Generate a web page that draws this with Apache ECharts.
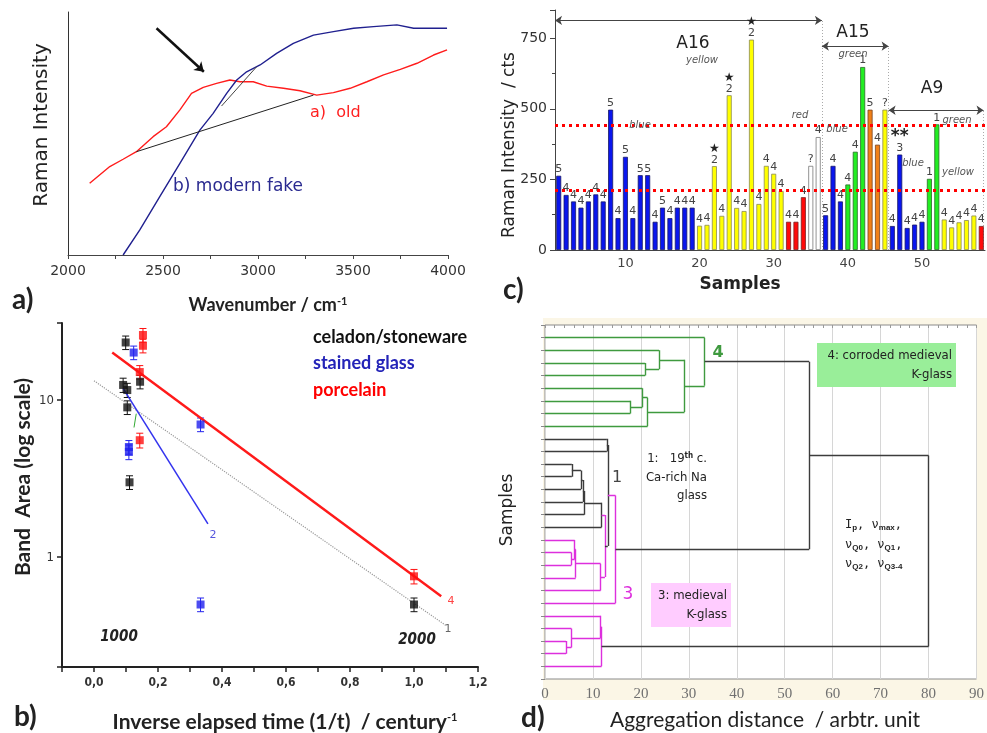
<!DOCTYPE html>
<html>
<head>
<meta charset="utf-8">
<script src="https://cdn.jsdelivr.net/npm/echarts@6/dist/echarts.min.js"></script>
<style>
html,body{margin:0;padding:0;background:#fff;}
#chart{width:987px;height:733px;}
</style>
</head>
<body>
<div id="chart"></div>
<script>
// ---- a) Raman spectra, old vs modern fake
var aOldX = [2114,2220,2290,2360,2448,2518,2589,2650,2712,2782,2852,2905,2975,3046,3134,3221,3309,3397,3485,3573,3661,3749,3837,3924,3995];
var aOldY = [29.5,36.4,39.4,42.5,48.7,52.8,59.7,66.5,69.0,70.6,72.0,71.3,71.3,69.5,68.6,67.6,65.8,66.8,68.6,71.3,74.1,76.4,78.9,82.3,84.4];
var aFakeX = [2290,2378,2483,2589,2694,2764,2835,2888,2940,3011,3098,3186,3292,3397,3503,3608,3731,3819,3995];
var aFakeY = [0,10.3,24,37.7,51.4,58.3,66.5,72,75.4,78.2,83,87.1,90.5,91.9,93.3,94,94.7,93.3,93.3];
var aBaseLong = [[2360,42.5],[3292,65.8]];
var aBaseShort = [[2808,61.3],[2993,77.5]];
var aArrow = [[2466,93.3],[2715,75.4]];

// ---- b) band area vs inverse elapsed time
var bStoneX = [0.099,0.091,0.104,0.104,0.111,0.144,1.0];
var bStoneY = [23.3,12.5,11.6,9.0,3.0,13.1,0.50];
var bStoneErr = [2.3,1.3,1.2,0.9,0.3,1.3,0.05];
var bGlassX = [0.124,0.109,0.109,0.333,0.333];
var bGlassY = [20.1,5.03,4.68,7.0,0.50];
var bGlassErr = [2.0,0.5,0.5,0.7,0.05];
var bPorcX = [0.153,0.153,0.143,0.143,1.0];
var bPorcY = [26.0,22.2,15.1,5.56,0.756];
var bPorcErr = [2.6,2.2,1.5,0.6,0.08];
var bFit4 = [[0.057,20.1],[1.085,0.564]];
var bFit2 = [[0.091,11.9],[0.356,1.63]];
var bFit1 = [[0.0,13.3],[1.101,0.366]];
var bFitGreen = [[0.132,8.2],[0.125,6.7]];

// ---- c) Raman intensity per sample
var cSamples = [];
for (var i = 1; i <= 58; i++) cSamples.push(String(i));
var cValues = [263,195,172,150,172,197,172,497,113,330,113,265,265,100,150,113,150,150,150,
  86,89,297,121,548,149,138,745,163,298,270,209,100,100,187,298,400,
  123,298,172,232,348,648,497,373,497,85,338,78,90,100,252,445,108,80,98,106,122,85];
var cColours = ['b','b','b','b','b','b','b','b','b','b','b','b','b','b','b','b','b','b','b',
  'y','y','y','y','y','y','y','y','y','y','y','y','r','r','r','w','w',
  'b','b','b','g','g','g','o','o','y','b','b','b','b','b','g','g','y','y','y','y','y','r'];
var cClass = ['5','4','4','4','4','4','4','5','4','5','4','5','5','4','5','4','4','4','4',
  '4','4','2','4','2','4','4','2','4','4','4','4','4','4','4','?','4',
  '5','4','4','4','4','1','5','4','?','4','3','4','4','4','1','1','4','4','4','4','4','4'];
var cStars = {22:'★',24:'★',27:'★',47:'**'};
var cThresholds = [443,210];
var cSpans = [[0.5,36.5,813],[36.5,45.5,722],[45.5,58.3,495]];

// ---- d) dendrogram
var dLeaves = 27;
var dNodes = [
  ['A','L3','L4',20.9,'g'],
  ['B','L2','A',23.8,'g'],
  ['C','L6','L7',17.8,'g'],
  ['D','L5','C',20.3,'g'],
  ['E','D','L8',21.4,'g'],
  ['F','B','E',29.1,'g'],
  ['G','L1','F',33.3,'g'],
  ['N1','L11','L12',5.6,'k'],
  ['N2','N1','L13',7.5,'k'],
  ['N3','N2','L14',7.9,'k'],
  ['N4','N3','L15',8.2,'k'],
  ['N5','N4','L16',11.8,'k'],
  ['M1','L18','L19',5.5,'m'],
  ['M2','L17','M1',6.2,'m'],
  ['M2b','M2','L20',6.4,'m'],
  ['M3','M2b','L21',11.6,'m'],
  ['X','N5','M3',12.5,'m'],
  ['N6','L9','L10',12.9,'k'],
  ['N8','N6','X',13.1,'k'],
  ['P','N8','L22',14.7,'m'],
  ['U','G','P',55.1,'k'],
  ['M5','L25','L26',4.4,'m'],
  ['M6','L24','M5',5.5,'m'],
  ['M7','L23','M6',11.6,'m'],
  ['M8','M7','L27',11.8,'m'],
  ['R','U','M8',80,'k']
];
var dColours = {g:'#3f9a3f', k:'#3c3c3c', m:'#dd2fdd'};

var barFill = {b:'#0a16ee', y:'#ffff00', r:'#ff0a0a', w:'#ffffff', g:'#22ee22', o:'#f08018'};
var barEdge = {b:'#1a1a66', y:'#8a8a55', r:'#772222', w:'#777777', g:'#2a6a2a', o:'#774422'};

function zip(xs, ys) { return xs.map(function (x, k) { return [x, ys[k]]; }); }
function errData(xs, ys, es) { return xs.map(function (x, k) { return [x, ys[k] - es[k], ys[k] + es[k]]; }); }

function errItem(params, api) {
  var x = api.value(0);
  var p1 = api.coord([x, api.value(2)]);
  var p2 = api.coord([x, api.value(1)]);
  var st = {stroke: api.visual('color'), lineWidth: 1};
  return {type: 'group', children: [
    {type: 'line', shape: {x1: p1[0], y1: p1[1], x2: p2[0], y2: p2[1]}, style: st},
    {type: 'line', shape: {x1: p1[0] - 3.5, y1: p1[1], x2: p1[0] + 3.5, y2: p1[1]}, style: st},
    {type: 'line', shape: {x1: p2[0] - 3.5, y1: p2[1], x2: p2[0] + 3.5, y2: p2[1]}, style: st}
  ]};
}

// bars
var cBarData = cValues.map(function (v, k) {
  var n = k + 1, star = cStars[n];
  var item = {value: v, itemStyle: {color: barFill[cColours[k]], borderColor: barEdge[cColours[k]], borderWidth: 0.8}};
  if (star) {
    item.label = {formatter: (star === '★' ? '{s|★}' : '{d|**}') + '\n{n|' + cClass[k] + '}'};
  } else {
    item.label = {formatter: '{n|' + cClass[k] + '}'};
  }
  return item;
});

// dendrogram segments
var dPos = {};
for (var j = 1; j <= dLeaves; j++) dPos['L' + j] = {x: 0, y: j};
var dSegs = [];
dNodes.forEach(function (n) {
  var a = dPos[n[1]], b = dPos[n[2]], d = n[3], col = dColours[n[4]];
  dSegs.push({coords: [[a.x, a.y], [d, a.y]], lineStyle: {color: col}});
  dSegs.push({coords: [[b.x, b.y], [d, b.y]], lineStyle: {color: col}});
  dSegs.push({coords: [[d, a.y], [d, b.y]], lineStyle: {color: col}});
  dPos[n[0]] = {x: d, y: (a.y + b.y) / 2};
});

function txt(x, y, text, o) {
  o = o || {};
  var el = {type: 'text', x: x, y: y, rotation: o.rot || 0, z: 100,
    style: {text: text, fill: o.color || '#222', textAlign: o.align || 'center', textVerticalAlign: 'middle',
      fontSize: o.size || 14, fontFamily: o.family || 'DejaVu Sans', fontWeight: o.weight || 'normal',
      fontStyle: o.italic ? 'italic' : 'normal'}};
  if (o.rich) el.style.rich = o.rich;
  return el;
}

var chart = echarts.init(document.getElementById('chart'));
var supRich = {sup: {fontSize: 11, verticalAlign: 'top', lineHeight: 14, fontFamily: 'Lato', fontWeight: 'bold', padding: [0, 0, 8, 0]}};
var subRich = {s: {fontSize: 8, fontWeight: 'bold', verticalAlign: 'bottom', padding: [6, 0, 0, 0]}};

chart.setOption({
  animation: false,
  backgroundColor: '#fff',
  grid: [
    {left: 68, top: 12, width: 380, height: 243},
    {left: 62, top: 323, width: 416, height: 344},
    {left: 555, top: 10, width: 430, height: 240},
    {left: 545, top: 325, width: 434, height: 354, show: true, backgroundColor: '#fff', borderColor: '#8a8a8a', borderWidth: 1}
  ],
  xAxis: [
    {gridIndex: 0, type: 'value', min: 2000, max: 4000, interval: 500,
      axisLine: {lineStyle: {color: '#444'}}, axisTick: {length: 4, lineStyle: {color: '#444'}},
      minorTick: {show: true, splitNumber: 2, length: 4, lineStyle: {color: '#444'}},
      axisLabel: {color: '#333', fontSize: 14, fontFamily: 'DejaVu Sans', margin: 9, formatter: function (v) { return String(v); }},
      splitLine: {show: false}},
    {gridIndex: 1, type: 'value', min: -0.1, max: 1.2, interval: 0.1,
      axisLine: {onZero: false, lineStyle: {color: '#222', width: 2}}, axisTick: {length: 5, lineStyle: {color: '#222', width: 1.5}},
      axisLabel: {color: '#333', fontSize: 12, fontWeight: 'bold', fontFamily: 'DejaVu Sans Condensed', margin: 10,
        formatter: function (v) { var t = Math.round(v * 10); return (t % 2 === 0 && t >= 0) ? (t / 10).toFixed(1).replace('.', ',') : ''; }},
      splitLine: {show: false}},
    {gridIndex: 2, type: 'category', data: cSamples, boundaryGap: true,
      axisLine: {lineStyle: {color: '#444'}},
      axisTick: {inside: true, alignWithLabel: true, length: 4, interval: function (idx) { return (idx + 1) % 10 === 5; }, lineStyle: {color: '#333'}},
      axisLabel: {color: '#444', fontSize: 13, fontFamily: 'DejaVu Sans', margin: 7, interval: function (idx) { return (idx + 1) % 10 === 0; }}},
    {gridIndex: 3, type: 'value', min: 0, max: 90, interval: 10,
      axisLine: {show: false}, axisTick: {show: false},
      axisLabel: {color: '#707070', fontSize: 15, fontFamily: 'Liberation Sans Narrow', margin: 8},
      splitLine: {show: true, lineStyle: {color: '#d6d6d6', width: 1}}},
    {gridIndex: 2, type: 'value', min: 0.5, max: 58.5, show: false},
    {gridIndex: 3, type: 'value', min: 0, max: 90, interval: 2, position: 'top',
      axisLine: {show: false}, axisTick: {inside: true, length: 3, lineStyle: {color: '#999'}},
      axisLabel: {show: false}, splitLine: {show: false}}
  ],
  yAxis: [
    {gridIndex: 0, type: 'value', min: 0, max: 100,
      axisLine: {show: true, lineStyle: {color: '#333'}}, axisTick: {show: false}, axisLabel: {show: false}, splitLine: {show: false}},
    {gridIndex: 1, type: 'log', logBase: 10, min: 0.2, max: 31,
      axisLine: {show: true, onZero: false, lineStyle: {color: '#222', width: 2}}, axisTick: {length: 5, lineStyle: {color: '#222', width: 1.5}},
      axisLabel: {color: '#333', fontSize: 13, fontFamily: 'DejaVu Sans Condensed', margin: 8,
        formatter: function (v) { var l = Math.log(v) / Math.LN10, r = Math.round(l); return (Math.abs(l - r) < 1e-6 && (r === 0 || r === 1)) ? String(Math.round(v)) : ''; }},
      splitLine: {show: false}},
    {gridIndex: 2, type: 'value', min: 0, max: 850, interval: 250,
      axisLine: {show: true, lineStyle: {color: '#444'}}, axisTick: {show: true, length: 5, lineStyle: {color: '#444'}},
      minorTick: {show: true, splitNumber: 2, length: 3, lineStyle: {color: '#444'}},
      axisLabel: {color: '#333', fontSize: 14, fontFamily: 'DejaVu Sans', margin: 8, formatter: function (v) { return v % 250 === 0 ? String(v) : ''; }},
      splitLine: {show: false}},
    {gridIndex: 3, type: 'value', min: 0, max: 28, interval: 1, inverse: true, position: 'right',
      axisLine: {show: false}, axisTick: {inside: true, length: 4, lineStyle: {color: '#888'}},
      axisLabel: {show: false}, splitLine: {show: false}}
  ],
  series: [
    // a)
    {type: 'line', xAxisIndex: 0, yAxisIndex: 0, data: zip(aOldX, aOldY), showSymbol: false, lineStyle: {color: '#ff1c1c', width: 1.4}},
    {type: 'line', xAxisIndex: 0, yAxisIndex: 0, data: zip(aFakeX, aFakeY), showSymbol: false, lineStyle: {color: '#20208f', width: 1.4}},
    {type: 'line', xAxisIndex: 0, yAxisIndex: 0, data: aBaseLong, showSymbol: false, lineStyle: {color: '#222', width: 1}},
    {type: 'line', xAxisIndex: 0, yAxisIndex: 0, data: aBaseShort, showSymbol: false, lineStyle: {color: '#444', width: 1}},
    {type: 'lines', coordinateSystem: 'cartesian2d', xAxisIndex: 0, yAxisIndex: 0, symbol: ['none', 'arrow'], symbolSize: 9,
      lineStyle: {color: '#111', width: 2.5, opacity: 1}, data: [{coords: aArrow}]},
    // b)
    {type: 'custom', xAxisIndex: 1, yAxisIndex: 1, renderItem: errItem, itemStyle: {color: '#111'}, data: errData(bStoneX, bStoneY, bStoneErr), z: 3},
    {type: 'custom', xAxisIndex: 1, yAxisIndex: 1, renderItem: errItem, itemStyle: {color: '#2323ee'}, data: errData(bGlassX, bGlassY, bGlassErr), z: 3},
    {type: 'custom', xAxisIndex: 1, yAxisIndex: 1, renderItem: errItem, itemStyle: {color: '#ff1010'}, data: errData(bPorcX, bPorcY, bPorcErr), z: 3},
    {type: 'line', xAxisIndex: 1, yAxisIndex: 1, data: bFit1, showSymbol: false, lineStyle: {color: '#9a9a9a', width: 1.2, type: 'dotted'}},
    {type: 'line', xAxisIndex: 1, yAxisIndex: 1, data: bFit4, showSymbol: false, lineStyle: {color: '#ff1a1a', width: 2.4}},
    {type: 'line', xAxisIndex: 1, yAxisIndex: 1, data: bFit2, showSymbol: false, lineStyle: {color: '#3333ee', width: 1.5}},
    {type: 'line', xAxisIndex: 1, yAxisIndex: 1, data: bFitGreen, showSymbol: false, lineStyle: {color: '#33aa33', width: 1}},
    {type: 'scatter', xAxisIndex: 1, yAxisIndex: 1, symbol: 'rect', symbolSize: 8, itemStyle: {color: '#111'}, data: zip(bStoneX, bStoneY), z: 5},
    {type: 'scatter', xAxisIndex: 1, yAxisIndex: 1, symbol: 'rect', symbolSize: 8, itemStyle: {color: '#1f1fee'}, data: zip(bGlassX, bGlassY), z: 5},
    {type: 'scatter', xAxisIndex: 1, yAxisIndex: 1, symbol: 'rect', symbolSize: 8, itemStyle: {color: '#ff0f0f'}, data: zip(bPorcX, bPorcY), z: 5},
    // c)
    {type: 'bar', xAxisIndex: 2, yAxisIndex: 2, data: cBarData, barWidth: 5,
      label: {show: true, position: 'top', distance: 1, color: '#444', fontSize: 11, fontFamily: 'DejaVu Sans',
        rich: {n: {fontSize: 11, color: '#444', lineHeight: 11, fontFamily: 'DejaVu Sans'},
          s: {fontSize: 12, color: '#222', lineHeight: 11},
          d: {fontSize: 17, color: '#222', lineHeight: 12, fontWeight: 'bold'}}},
      markLine: {silent: true, symbol: 'none', label: {show: false},
        lineStyle: {color: '#ff0000', type: [3, 4], width: 3},
        data: cThresholds.map(function (t) { return {yAxis: t}; })}},
    {type: 'lines', coordinateSystem: 'cartesian2d', xAxisIndex: 4, yAxisIndex: 2, symbol: 'none',
      lineStyle: {color: '#aaa', width: 1, type: [1, 2], opacity: 1},
      data: cSpans.map(function (s) { return {coords: [[s[1], 0], [s[1], s[2]]]}; })},
    {type: 'lines', coordinateSystem: 'cartesian2d', xAxisIndex: 4, yAxisIndex: 2, symbol: ['arrow', 'arrow'], symbolSize: 7,
      lineStyle: {color: '#444', width: 1, opacity: 1},
      data: cSpans.map(function (s) { return {coords: [[s[0], s[2]], [s[1], s[2]]]}; })},
    // d)
    {type: 'lines', coordinateSystem: 'cartesian2d', xAxisIndex: 3, yAxisIndex: 3, symbol: 'none',
      lineStyle: {width: 1.4, opacity: 1}, data: dSegs}
  ],
  graphic: [
    {type: 'rect', z: -10, shape: {x: 543, y: 318, width: 444, height: 382}, style: {fill: '#fbf6e6'}},
    // a)
    txt(42, 125, 'Raman Intensity', {rot: Math.PI / 2, size: 20}),
    txt(310, 113, 'a)  old', {align: 'left', color: '#ff2020', size: 16}),
    txt(173, 187, 'b) modern fake', {align: 'left', color: '#2a2a90', size: 17}),
    txt(268, 305, 'Wavenumber / cm{sup|-1}', {size: 18, weight: 'bold', family: 'Lato', rich: supRich}),
    txt(12, 300, 'a)', {align: 'left', size: 28, weight: 'bold', family: 'Lato'}),
    // b)
    txt(23, 477, 'Band  Area (log scale)', {rot: Math.PI / 2, size: 21, weight: 'bold', family: 'Lato'}),
    txt(313, 337, 'celadon/stoneware', {align: 'left', size: 18, weight: 'bold', family: 'Lato', color: '#111'}),
    txt(313, 363, 'stained glass', {align: 'left', size: 18, weight: 'bold', family: 'Lato', color: '#2424b8'}),
    txt(313, 390, 'porcelain', {align: 'left', size: 18, weight: 'bold', family: 'Lato', color: '#ff0000'}),
    txt(119, 637, '1000', {size: 15, weight: 'bold', italic: true, family: 'DejaVu Sans Condensed'}),
    txt(417, 640, '2000', {size: 15, weight: 'bold', italic: true, family: 'DejaVu Sans Condensed'}),
    txt(213, 535, '2', {size: 11, color: '#5555dd'}),
    txt(451, 601, '4', {size: 11, color: '#ff4444'}),
    txt(448, 629, '1', {size: 11, color: '#666'}),
    txt(285, 722, 'Inverse elapsed time (1/t)  / century{sup|-1}', {size: 21, weight: 'bold', family: 'Lato', rich: supRich}),
    txt(14, 717, 'b)', {align: 'left', size: 28, weight: 'bold', family: 'Lato'}),
    // c)
    txt(510, 145, 'Raman Intensity  / cts', {rot: Math.PI / 2, size: 17}),
    txt(740, 285, 'Samples', {size: 17, weight: 'bold'}),
    txt(693, 44, 'A16', {size: 17}),
    txt(853, 33, 'A15', {size: 17}),
    txt(932, 89, 'A9', {size: 17}),
    txt(702, 60, 'yellow', {size: 10, italic: true, color: '#555'}),
    txt(640, 125, 'blue', {size: 10, italic: true, color: '#555'}),
    txt(800, 115, 'red', {size: 10, italic: true, color: '#555'}),
    txt(837, 129, 'blue', {size: 10, italic: true, color: '#555'}),
    txt(853, 54, 'green', {size: 10, italic: true, color: '#555'}),
    txt(957, 120, 'green', {size: 10, italic: true, color: '#555'}),
    txt(913, 163, 'blue', {size: 10, italic: true, color: '#555'}),
    txt(958, 172, 'yellow', {size: 10, italic: true, color: '#555'}),
    txt(503, 290, 'c)', {align: 'left', size: 28, weight: 'bold', family: 'Lato'}),
    // d)
    txt(718, 353, '4', {size: 16, weight: 'bold', color: '#3f9a3f'}),
    txt(617, 478, '1', {size: 16, color: '#444'}),
    txt(628, 595, '3', {size: 17, color: '#dd2fdd'}),
    {type: 'rect', z: 50, shape: {x: 817, y: 343, width: 139, height: 44}, style: {fill: '#99ee99'}},
    txt(952, 356, '4: corroded medieval', {align: 'right', size: 13, family: 'DejaVu Sans Condensed', color: '#222'}),
    txt(952, 375, 'K-glass', {align: 'right', size: 13, family: 'DejaVu Sans Condensed', color: '#222'}),
    {type: 'rect', z: 50, shape: {x: 651, y: 583, width: 80, height: 44}, style: {fill: '#ffccff'}},
    txt(727, 596, '3: medieval', {align: 'right', size: 13, family: 'DejaVu Sans Condensed', color: '#222'}),
    txt(727, 615, 'K-glass', {align: 'right', size: 13, family: 'DejaVu Sans Condensed', color: '#222'}),
    txt(707, 459, '1:   19{s|th} c.', {align: 'right', size: 13, family: 'DejaVu Sans Condensed', color: '#222',
      rich: {s: {fontSize: 8, verticalAlign: 'top', fontFamily: 'DejaVu Sans Condensed', fontWeight: 'bold', padding: [0, 0, 6, 0]}}}),
    txt(707, 478, 'Ca-rich Na', {align: 'right', size: 13, family: 'DejaVu Sans Condensed', color: '#222'}),
    txt(707, 496, 'glass', {align: 'right', size: 13, family: 'DejaVu Sans Condensed', color: '#222'}),
    txt(845, 525, 'I{s|p}, ν{s|max},', {align: 'left', size: 12, family: 'DejaVu Sans Mono', color: '#222', rich: subRich}),
    txt(845, 545, 'ν{s|Q0}, ν{s|Q1},', {align: 'left', size: 12, family: 'DejaVu Sans Mono', color: '#222', rich: subRich}),
    txt(845, 564, 'ν{s|Q2}, ν{s|Q3-4}', {align: 'left', size: 12, family: 'DejaVu Sans Mono', color: '#222', rich: subRich}),
    txt(508, 510, 'Samples', {rot: Math.PI / 2, size: 17}),
    txt(765, 720, 'Aggregation distance  / arbtr. unit', {size: 21, family: 'Lato'}),
    txt(521, 718, 'd)', {align: 'left', size: 28, weight: 'bold', family: 'Lato'})
  ]
});
</script>
</body>
</html>
